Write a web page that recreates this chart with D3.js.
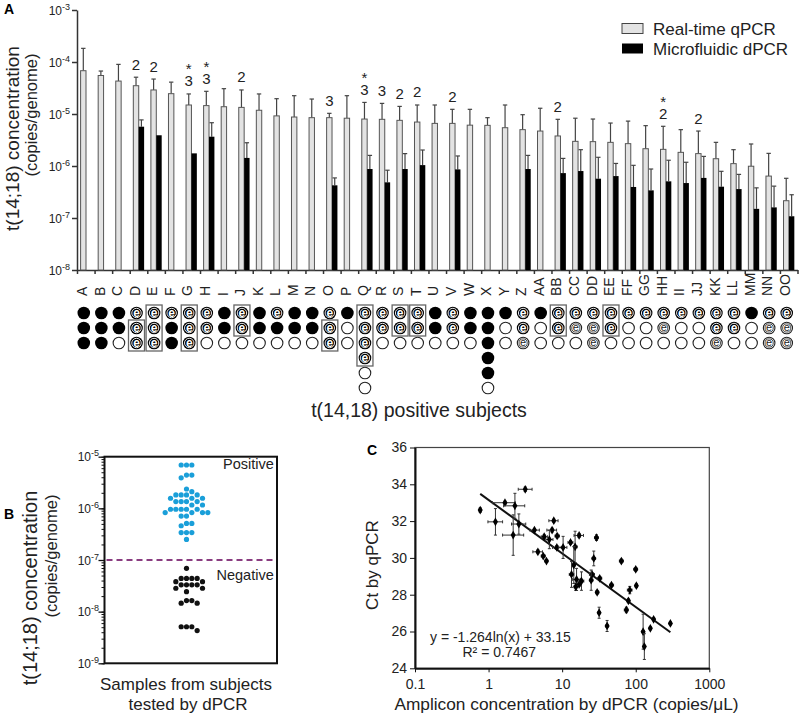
<!DOCTYPE html>
<html>
<head>
<meta charset="utf-8">
<script src="https://cdn.jsdelivr.net/npm/d3@7"></script>
<style>
  body { margin: 0; background: #fff; }
  svg { display: block; font-family: "Liberation Sans", Arial, sans-serif; }
</style>
</head>
<body>
<div id="chart"></div>
<script>
// ---------- panel A data ----------
const subjects = ['A','B','C','D','E','F','G','H','I','J','K','L','M','N','O','P','Q','R','S','T','U','V','W','X','Y','Z',
  'AA','BB','CC','DD','EE','FF','GG','HH','II','JJ','KK','LL','MM','NN','OO'];
const qpcr = [6.8e-5,5.5e-5,4.3e-5,3.5e-5,2.9e-5,2.46e-5,1.49e-5,1.45e-5,1.38e-5,1.34e-5,1.18e-5,9.2e-6,8.75e-6,8.5e-6,
  8.5e-6,8.3e-6,8.0e-6,7.9e-6,7.55e-6,7.0e-6,6.6e-6,6.6e-6,6.1e-6,6.05e-6,5.45e-6,5.0e-6,
  4.7e-6,3.78e-6,2.98e-6,2.94e-6,2.85e-6,2.69e-6,2.15e-6,2.09e-6,1.83e-6,1.73e-6,1.38e-6,1.11e-6,9.9e-7,6.4e-7,2.15e-7];
const qpcrHi = [1.83e-4,6.7e-5,9.0e-5,5.1e-5,4.7e-5,4.1e-5,2.43e-5,2.73e-5,3.07e-5,2.9e-5,2.43e-5,1.97e-5,2.25e-5,1.94e-5,
  1.03e-5,2.25e-5,1.67e-5,1.6e-5,1.4e-5,1.49e-5,1.49e-5,1.23e-5,1.23e-5,8.5e-6,1.49e-5,9.7e-6,
  1.29e-5,7.9e-6,8.3e-6,8.0e-6,6.7e-6,7.3e-6,5.97e-6,5.8e-6,5.0e-6,4.7e-6,2.85e-6,2.06e-6,2.65e-6,1.75e-6,5.8e-7];
const dpcr = [null,null,null,5.7e-6,3.9e-6,null,1.75e-6,3.66e-6,null,1.43e-6,null,null,null,null,
  4.25e-7,null,8.75e-7,4.85e-7,8.75e-7,1.04e-6,null,8.6e-7,null,null,null,8.75e-7,
  null,7.3e-7,8.0e-7,5.7e-7,6.4e-7,3.95e-7,3.4e-7,5.07e-7,4.7e-7,5.9e-7,4.0e-7,3.6e-7,1.5e-7,1.6e-7,1.08e-7];
const dpcrHi = [null,null,null,7.7e-6,null,null,null,6.8e-6,null,2.8e-6,null,null,null,null,
  5.9e-7,null,1.6e-6,8.3e-7,1.73e-6,2.03e-6,null,1.56e-6,null,null,null,1.6e-6,
  null,1.4e-6,2.06e-6,1.47e-6,1.12e-6,1.03e-6,8.75e-7,1.29e-6,1.18e-6,1.53e-6,7.9e-7,6.9e-7,3.8e-7,4.1e-7,2.8e-7];
// significance notes above bars (top line first)
const noteSubjects = ['D','E','G','H','J','O','Q','R','S','T','V','BB','HH','JJ'];
const noteLines = [['2'],['2'],['*','3'],['*','3'],['2'],['3'],['*','3'],['3'],['2'],['2'],['2'],['2'],['*','2'],['2']];
// sample symbols per subject: F filled, O open, E dark "e", e light "e"
const dotCodes = ['FFF','FFF','FFO','EEE','EEE','EFF','EEE','EEO','FFO','EEO','FFO','EFO','FFO','FFO',
  'EEE','FOO','EEEEOO','EEO','EEO','EEO','FFO','EEO','FFO','FFFFFO','FOO','EEe',
  'FOO','EEO','EeO','Eee','EEO','EOO','EOO','EeO','EOO','EOO','EEe','EEO','FOO','Eee','Eee'];
const boxSubjects = ['D','E','G','J','O','Q','S','T','BB','EE'];
const boxRows = [[1,2],[0,2],[0,2],[0,1],[1,2],[0,3],[0,1],[0,1],[0,1],[0,1]];

// ---------- panel B data ----------
const positiveVals = [6.9e-6,6.9e-6,6.9e-6,4.4e-6,4.4e-6,3.9e-6,2.37e-6,2.1e-6,
  1.82e-6,1.82e-6,1.82e-6,1.82e-6,1.57e-6,1.57e-6,1.57e-6,1.35e-6,1.35e-6,1.35e-6,1.35e-6,1.16e-6,1.16e-6,
  9.6e-7,9.6e-7,9.6e-7,9.6e-7,9.6e-7,8.3e-7,8.3e-7,8.3e-7,8.3e-7,7.1e-7,7.1e-7,5.1e-7,5.1e-7,4.6e-7,
  3.4e-7,3.4e-7,3.4e-7,2.5e-7];
const negativeVals = [6.9e-8,4.4e-8,4.4e-8,4.4e-8,4.4e-8,3.8e-8,3.8e-8,3.3e-8,3.3e-8,3.3e-8,3.3e-8,2.84e-8,2.84e-8,
  2.44e-8,1.64e-8,1.64e-8,1.46e-8,1.46e-8,5.1e-9,5.1e-9,5.1e-9,4.3e-9];
const cutoff = 1e-7;

// ---------- panel C data: [dPCR copies/uL, Ct, x low, x high, Ct error] ----------
const ctPoints = [
  [0.77,32.6,0.74,0.80,0.12],[1.24,31.96,0.98,1.55,0.72],[1.67,33.0,1.13,2.3,0.08],[2.28,32.83,1.6,3.1,0.68],
  [3.15,33.73,2.53,3.9,0.12],[2.16,31.24,1.55,3.0,1.1],[2.58,31.84,2.05,3.2,0.55],[4.2,31.51,3.65,4.9,0.08],
  [7.7,32.02,6.6,8.8,0.08],[7.3,31.51,6.2,8.4,0.1],[5.7,31.15,5.2,6.3,0.1],[6.7,31.0,6.0,7.5,0.5],
  [8.55,31.19,8.0,9.2,0.1],[17.0,31.22,14.5,19.5,0.1],[29.3,31.1,27.5,31,0.15],[4.68,30.33,4.0,5.4,0.1],
  [5.53,30.1,5.2,5.9,0.08],[6.12,29.83,5.8,6.4,0.08],[8.47,30.57,7.4,9.7,0.1],[10.3,30.57,9.0,11.6,0.6],
  [13.0,30.84,12.0,14.0,0.1],[15.0,30.6,14.3,16,0.85],[14.4,29.61,13.8,15,1.0],[26.9,29.97,25.5,28.5,0.4],
  [63.8,29.83,60,68,0.1],[100,29.38,94,106,0.1],[102,28.49,98,106,0.1],[83,28.25,77,89,0.2],
  [79.5,27.67,76,83,0.1],[74.6,27.17,70,79,0.15],[46.8,28.52,44,50,0.1],[32.4,28.89,30.5,34.5,0.1],
  [29.9,28.13,28.5,31.5,0.1],[25.5,29.1,23.5,27.5,0.1],[24.8,28.79,23.5,26.2,0.55],[13.4,29.1,12.5,14.4,0.7],
  [15.7,28.83,13.9,17.6,0.6],[17.0,28.56,16,18,0.1],[18.3,28.74,17,19.7,0.5],[15.3,28.43,14.5,16.2,0.2],
  [31.8,27.02,30.5,33.2,0.3],[40.8,26.3,39,42.7,0.3],[126,25.99,121,131,0.95],[131,25.18,127,135,0.7],
  [158,26.17,152,164,0.08],[175,26.66,168,182,0.08],[296,26.44,285,307,0.08]];
const fitSlope = -1.264, fitIntercept = 33.15, fitRange = [0.77, 296];
const ctTicks = [24,26,28,30,32,34,36];
const ampTicks = [0.1,1,10,100,1000];

const W = 800, H = 717;
const svg = d3.select('#chart').append('svg').attr('width', W).attr('height', H);
svg.append('rect').attr('width', W).attr('height', H).attr('fill', '#fff');

const axisCol = '#333';

// superscript log labels
function powLabel(sel, d) {
  const e = Math.round(Math.log10(d));
  sel.append('tspan').text('10');
  sel.append('tspan').attr('dy', -5).attr('font-size', 9).text(e);
}

// =============== PANEL A ===============
const x = d3.scaleBand().domain(subjects).range([77, 797.5]);
const y = d3.scaleLog().domain([1e-8, 1e-3]).range([270, 10]);
const bw = 5.4;

const gA = svg.append('g');
gA.append('text').attr('x', 4).attr('y', 14).attr('font-weight', 'bold').attr('font-size', 14).text('A');

// y axis
gA.append('g').attr('transform', 'translate(77,0)')
  .call(d3.axisLeft(y).tickValues([1e-8,1e-7,1e-6,1e-5,1e-4,1e-3]).tickFormat('').tickSize(5).tickSizeOuter(0))
  .call(g => g.selectAll('line,path').attr('stroke', axisCol).attr('stroke-width', 1.5));
[1e-8,1e-7,1e-6,1e-5,1e-4,1e-3].forEach(d => {
  gA.append('text').attr('x', 70).attr('y', y(d) + 4.5).attr('text-anchor', 'end')
    .attr('font-size', 12).attr('fill', '#222').call(s => powLabel(s, d));
});

// x axis with ticks at band edges
const edges = d3.scaleLinear().domain([0, subjects.length]).range(x.range());
gA.append('g').attr('transform', 'translate(0,270)')
  .call(d3.axisBottom(edges).tickValues(d3.range(0, subjects.length + 1)).tickFormat('').tickSize(4).tickSizeOuter(0))
  .call(g => g.selectAll('line,path').attr('stroke', axisCol).attr('stroke-width', 1.5));

gA.selectAll('.xl').data(subjects).join('text')
  .attr('transform', d => `translate(${x(d) + x.bandwidth() / 2 + 1.2},296) rotate(-90)`)
  .attr('font-size', 14).attr('fill', '#222').text(d => d);

// bars
const rows = subjects.map((s, i) => ({ s, q: qpcr[i], qh: qpcrHi[i], d: dpcr[i], dh: dpcrHi[i] }));
function errBar(g, cx, v, hi) {
  if (hi == null || hi <= v) return;
  g.append('line').attr('x1', cx).attr('x2', cx).attr('y1', y(v)).attr('y2', y(hi)).attr('stroke', '#444').attr('stroke-width', 1.2);
  g.append('line').attr('x1', cx - 2.2).attr('x2', cx + 2.2).attr('y1', y(hi)).attr('y2', y(hi)).attr('stroke', '#444').attr('stroke-width', 1.2);
}
rows.forEach(r => {
  const x0 = x(r.s);
  errBar(gA, x0 + 3.6 + bw / 2, r.q, r.qh);
  gA.append('rect').attr('x', x0 + 3.6).attr('y', y(r.q)).attr('width', bw).attr('height', 270 - y(r.q))
    .attr('fill', '#e3e3e3').attr('stroke', '#555').attr('stroke-width', 1);
  if (r.d != null) {
    errBar(gA, x0 + 9 + bw / 2, r.d, r.dh);
    gA.append('rect').attr('x', x0 + 9).attr('y', y(r.d)).attr('width', bw).attr('height', 270 - y(r.d)).attr('fill', '#000');
  }
});

// notes: number just above the error cap, asterisk stacked on top
noteSubjects.forEach((s, k) => {
  const i = subjects.indexOf(s);
  const cx = x(s) + 3.6 + bw / 2;
  const base = y(qpcrHi[i]) - 7.5;
  const lines = noteLines[k];
  const num = lines[lines.length - 1];
  gA.append('text').attr('x', cx).attr('y', base).attr('text-anchor', 'middle')
    .attr('font-size', 15).attr('fill', '#222').text(num);
  if (lines.length > 1) {
    gA.append('text').attr('x', cx).attr('y', base - 12).attr('text-anchor', 'middle')
      .attr('font-size', 15).attr('fill', '#222').text(lines[0]);
  }
});

// legend
gA.append('rect').attr('x', 622).attr('y', 23.5).attr('width', 21).attr('height', 10).attr('fill', '#e3e3e3').attr('stroke', '#444');
gA.append('rect').attr('x', 622).attr('y', 43.5).attr('width', 21).attr('height', 10).attr('fill', '#000');
gA.append('text').attr('x', 653).attr('y', 34.5).attr('font-size', 17).attr('fill', '#222').text('Real-time qPCR');
gA.append('text').attr('x', 653).attr('y', 55).attr('font-size', 17).attr('fill', '#222').text('Microfluidic dPCR');

// y title
gA.append('text').attr('transform', 'translate(19,138.5) rotate(-90)').attr('text-anchor', 'middle')
  .attr('font-size', 19).attr('fill', '#222').text('t(14;18) concentration');
gA.append('text').attr('transform', 'translate(37,115) rotate(-90)').attr('text-anchor', 'middle')
  .attr('font-size', 16.5).attr('fill', '#222').text('(copies/genome)');

// sample symbols
const rowY = k => 313 + k * 15;
const rr = 6.3;
dotCodes.forEach((code, i) => {
  const cx = x(subjects[i]) + x.bandwidth() / 2 - 2;
  code.split('').forEach((c, k) => {
    const cy = rowY(k);
    if (c === 'F') {
      gA.append('circle').attr('cx', cx).attr('cy', cy).attr('r', rr).attr('fill', '#000');
    } else if (c === 'O') {
      gA.append('circle').attr('cx', cx).attr('cy', cy).attr('r', rr - 0.5).attr('fill', '#fff').attr('stroke', '#222').attr('stroke-width', 1.1);
    } else if (c === 'E') {
      gA.append('circle').attr('cx', cx).attr('cy', cy).attr('r', rr).attr('fill', '#000');
      gA.append('circle').attr('cx', cx).attr('cy', cy).attr('r', rr - 1.6).attr('fill', 'none').attr('stroke', '#fff').attr('stroke-width', 0.9);
      gA.append('text').attr('x', cx).attr('y', cy + 3.6).attr('text-anchor', 'middle').attr('font-size', 12).attr('font-weight', 'bold').attr('fill', '#fff').text('e');
    } else {
      gA.append('circle').attr('cx', cx).attr('cy', cy).attr('r', rr - 0.5).attr('fill', '#fff').attr('stroke', '#222').attr('stroke-width', 1.1);
      gA.append('circle').attr('cx', cx).attr('cy', cy).attr('r', rr - 2.2).attr('fill', 'none').attr('stroke', '#222').attr('stroke-width', 0.8);
      gA.append('text').attr('x', cx).attr('y', cy + 3.4).attr('text-anchor', 'middle').attr('font-size', 11).attr('fill', '#222').text('e');
    }
  });
});
boxSubjects.forEach((s, k) => {
  const cx = x(s) + x.bandwidth() / 2 - 2;
  const [r0, r1] = boxRows[k];
  gA.append('rect').attr('x', cx - 8).attr('y', rowY(r0) - 8).attr('width', 16).attr('height', rowY(r1) - rowY(r0) + 16)
    .attr('fill', 'none').attr('stroke', '#666').attr('stroke-width', 1.3);
});

gA.append('text').attr('x', 419).attr('y', 417).attr('text-anchor', 'middle').attr('font-size', 19.5).attr('fill', '#222')
  .text('t(14,18) positive subjects');

// =============== PANEL B ===============
const gB = svg.append('g');
const bLeft = 104.5, bRight = 277, bTop = 456.7, bBot = 663.3;
const yB = d3.scaleLog().domain([1e-9, 1e-5]).range([bBot, bTop]);
gB.append('text').attr('x', 4).attr('y', 519).attr('font-weight', 'bold').attr('font-size', 14).text('B');

gB.append('rect').attr('x', bLeft).attr('y', bTop).attr('width', bRight - bLeft).attr('height', bBot - bTop)
  .attr('fill', 'none').attr('stroke', '#111').attr('stroke-width', 2);
const minorB = [];
for (let e = -9; e < -5; e++) for (let m = 1; m < 10; m++) minorB.push(m * Math.pow(10, e));
minorB.push(1e-5);
gB.append('g').attr('transform', `translate(${bLeft},0)`)
  .call(d3.axisLeft(yB).tickValues(minorB).tickFormat('').tickSize(3).tickSizeOuter(0))
  .call(g => g.select('path').remove())
  .call(g => g.selectAll('line').attr('stroke', '#111'));
gB.append('g').attr('transform', `translate(${bLeft},0)`)
  .call(d3.axisLeft(yB).tickValues([1e-9,1e-8,1e-7,1e-6,1e-5]).tickFormat('').tickSize(6).tickSizeOuter(0))
  .call(g => g.select('path').remove())
  .call(g => g.selectAll('line').attr('stroke', '#111').attr('stroke-width', 1.3));
[1e-9,1e-8,1e-7,1e-6,1e-5].forEach(d => {
  gB.append('text').attr('x', 99).attr('y', yB(d) + 4.5).attr('text-anchor', 'end')
    .attr('font-size', 12).attr('fill', '#222').call(s => powLabel(s, d));
});

gB.append('line').attr('x1', bLeft + 2).attr('x2', bRight - 1).attr('y1', yB(cutoff)).attr('y2', yB(cutoff))
  .attr('stroke', '#8a3d80').attr('stroke-width', 2).attr('stroke-dasharray', '6,4');

function swarm(vals, cx, r) {
  const placed = [];
  vals.forEach(v => {
    const cy = yB(v);
    for (let k = 0; k < 40; k++) {
      const off = (k % 2 ? 1 : -1) * Math.ceil(k / 2) * r * 2.05;
      const px = cx + off;
      if (placed.every(p => Math.hypot(p.x - px, p.y - cy) >= r * 2)) { placed.push({ x: px, y: cy }); break; }
    }
  });
  return placed;
}
const pr = 2.6;
gB.selectAll('.pos').data(swarm(positiveVals, 186.5, pr)).join('circle')
  .attr('cx', d => d.x).attr('cy', d => d.y).attr('r', pr).attr('fill', '#1a9fd9');
gB.selectAll('.neg').data(swarm(negativeVals, 186.5, pr)).join('circle')
  .attr('cx', d => d.x).attr('cy', d => d.y).attr('r', pr).attr('fill', '#111');

gB.append('text').attr('x', 223).attr('y', 469).attr('font-size', 14.5).attr('fill', '#222').text('Positive');
gB.append('text').attr('x', 216.5).attr('y', 579.5).attr('font-size', 14.5).attr('fill', '#222').text('Negative');

gB.append('text').attr('transform', 'translate(37,588) rotate(-90)').attr('text-anchor', 'middle')
  .attr('font-size', 20).attr('fill', '#222').text('t(14;18) concentration');
gB.append('text').attr('transform', 'translate(57,556) rotate(-90)').attr('text-anchor', 'middle')
  .attr('font-size', 16.5).attr('fill', '#222').text('(copies/genome)');
gB.append('text').attr('x', 186).attr('y', 690).attr('text-anchor', 'middle').attr('font-size', 17).attr('fill', '#222').text('Samples from subjects');
gB.append('text').attr('x', 188).attr('y', 710).attr('text-anchor', 'middle').attr('font-size', 17).attr('fill', '#222').text('tested by dPCR');

// =============== PANEL C ===============
const gC = svg.append('g');
const cLeft = 415, cRight = 709.3, cTop = 447.5, cBot = 668.3;
const xC = d3.scaleLog().domain([0.1, 1000]).range([cLeft, cRight]);
const yC = d3.scaleLinear().domain([24, 36]).range([cBot, cTop]);
gC.append('text').attr('x', 367).attr('y', 455).attr('font-weight', 'bold').attr('font-size', 14).text('C');

gC.append('rect').attr('x', cLeft).attr('y', cTop).attr('width', cRight - cLeft).attr('height', cBot - cTop)
  .attr('fill', 'none').attr('stroke', '#444').attr('stroke-width', 1.2);
gC.append('g').attr('transform', `translate(${cLeft},0)`)
  .call(d3.axisLeft(yC).tickValues(ctTicks).tickSize(5).tickSizeOuter(0))
  .call(g => g.select('path').attr('stroke', '#111').attr('stroke-width', 2))
  .call(g => g.selectAll('line').attr('stroke', '#111'))
  .call(g => g.selectAll('text').attr('font-size', 14).attr('fill', '#222').attr('font-family', 'Liberation Sans, Arial'));
gC.append('g').attr('transform', `translate(0,${cBot})`)
  .call(d3.axisBottom(xC).tickValues(ampTicks).tickFormat(d3.format('~g')).tickSize(4).tickSizeOuter(0))
  .call(g => g.select('path').attr('stroke', '#111').attr('stroke-width', 2))
  .call(g => g.selectAll('line').attr('stroke', '#111'))
  .call(g => g.selectAll('text').attr('font-size', 14).attr('fill', '#222').attr('dy', '1em').attr('font-family', 'Liberation Sans, Arial'));

// fit line
gC.append('line').attr('x1', xC(fitRange[0])).attr('y1', yC(fitSlope * Math.log(fitRange[0]) + fitIntercept))
  .attr('x2', xC(fitRange[1])).attr('y2', yC(fitSlope * Math.log(fitRange[1]) + fitIntercept))
  .attr('stroke', '#111').attr('stroke-width', 2);

// points with error bars
ctPoints.forEach(([v, ct, lo, hi, e]) => {
  const px = xC(v), py = yC(ct);
  const g = gC.append('g').attr('stroke', '#333').attr('stroke-width', 1);
  g.append('line').attr('x1', xC(lo)).attr('x2', xC(hi)).attr('y1', py).attr('y2', py);
  g.append('line').attr('x1', xC(lo)).attr('x2', xC(lo)).attr('y1', py - 1.5).attr('y2', py + 1.5);
  g.append('line').attr('x1', xC(hi)).attr('x2', xC(hi)).attr('y1', py - 1.5).attr('y2', py + 1.5);
  g.append('line').attr('x1', px).attr('x2', px).attr('y1', yC(ct - e)).attr('y2', yC(ct + e));
  g.append('line').attr('x1', px - 1.5).attr('x2', px + 1.5).attr('y1', yC(ct - e)).attr('y2', yC(ct - e));
  g.append('line').attr('x1', px - 1.5).attr('x2', px + 1.5).attr('y1', yC(ct + e)).attr('y2', yC(ct + e));
  gC.append('path').attr('transform', `translate(${px},${py})`)
    .attr('d', d3.symbol(d3.symbolDiamond, 22)()).attr('fill', '#000');
});

gC.append('text').attr('x', 430).attr('y', 641.5).attr('font-size', 14).attr('fill', '#222').text('y = -1.264ln(x) + 33.15');
gC.append('text').attr('x', 462.5).attr('y', 656.5).attr('font-size', 14).attr('fill', '#222').text('R² = 0.7467');

gC.append('text').attr('transform', 'translate(378,565) rotate(-90)').attr('text-anchor', 'middle')
  .attr('font-size', 17).attr('fill', '#222').text('Ct by qPCR');
gC.append('text').attr('x', 566.5).attr('y', 710).attr('text-anchor', 'middle').attr('font-size', 17.3).attr('fill', '#222')
  .text('Amplicon concentration by dPCR (copies/μL)');
</script>
</body>
</html>
